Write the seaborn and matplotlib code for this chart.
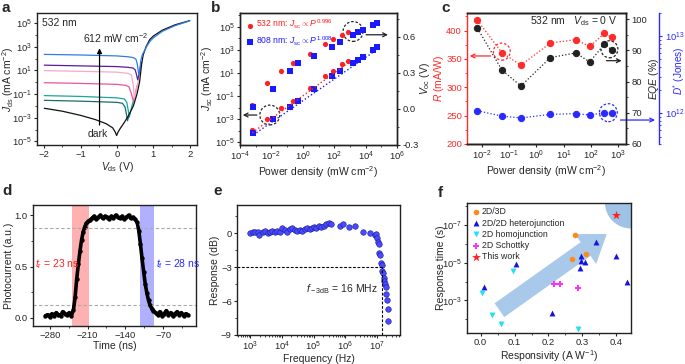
import numpy as np
import pandas as pd
import matplotlib
matplotlib.use('Agg')
import matplotlib.pyplot as plt
import seaborn as sns
from matplotlib.patches import Ellipse, FancyArrowPatch
from matplotlib.ticker import FixedLocator, MultipleLocator, FuncFormatter, NullFormatter, LogLocator

# ---- a: J-V curves (V in volts, log10 of J in mA cm-2) ----
v_dark = [-2, -1.5, -1.0, -0.6, -0.3, -0.12, -0.05, -0.01, 0.03, 0.1, 0.2, 0.32, 0.45, 0.55, 0.62, 0.68, 0.72, 0.8, 0.9, 1.0, 1.25, 1.6, 2.0]
lj_dark = [-2.2, -2.45, -2.8, -3.15, -3.5, -3.85, -4.2, -4.5, -4.2, -3.85, -3.4, -2.8, -2.0, -1.0, 0.0, 1.6, 2.3, 3.0, 3.6, 3.9, 4.4, 4.85, 5.2]
v_blue = [-2, -1, 0, 0.3, 0.45, 0.52, 0.56, 0.6, 0.63, 0.66, 0.7, 0.78, 0.85, 0.92, 1.0, 1.25, 1.6, 2.0]
lj_blue = [2.35, 2.3, 2.22, 2.15, 2.08, 1.95, 1.5, 0.6, 1.2, 1.9, 2.35, 2.8, 3.2, 3.5, 3.75, 4.3, 4.78, 5.18]
v_purple = [-2, -1, 0, 0.3, 0.44, 0.5, 0.54, 0.57, 0.6, 0.64, 0.68]
lj_purple = [1.44, 1.38, 1.32, 1.26, 1.2, 1.05, 0.6, 0.2, 0.6, 1.2, 1.7]
v_lpink = [-2, -1, 0, 0.3, 0.4, 0.45, 0.48, 0.51, 0.55, 0.6]
lj_lpink = [0.98, 0.92, 0.85, 0.75, 0.6, -0.3, -1.5, -1.0, -0.3, 0.2]
v_pink = [-2, -1, 0, 0.25, 0.33, 0.4, 0.45, 0.5, 0.55]
lj_pink = [-0.04, -0.1, -0.18, -0.27, -0.4, -1.0, -1.6, -1.0, -0.3]
v_teal = [-2, -1, 0, 0.2, 0.27, 0.31, 0.34, 0.37, 0.41, 0.45]
lj_teal = [-1.13, -1.2, -1.32, -1.41, -1.7, -2.4, -2.95, -2.5, -2.0, -1.6]
v_dteal = [-2, -1, 0, 0.15, 0.22, 0.26, 0.29, 0.32, 0.36]
lj_dteal = [-1.53, -1.6, -1.7, -1.78, -2.1, -2.7, -3.25, -2.9, -2.6]

# ---- b: power dependence ----
p532 = [6e-4, 5e-3, 4.1e-2, 0.25, 2.9, 26, 87, 330, 720]
jsc532 = [1.15e-4, 1.15e-3, 8.7e-3, 3.7e-2, 0.51, 5.1, 16, 59, 115]
voc532 = [0.036, 0.22, 0.32, 0.38, 0.46, 0.54, 0.58, 0.62, 0.64]
p808 = [7.1e-4, 1.3e-2, 0.15, 0.51, 5.4, 69, 234, 1510, 3470, 7080, 3.1e4, 5e4]
jsc808 = [7.2e-5, 1.0e-3, 1.15e-2, 3.7e-2, 0.43, 5.1, 16, 72, 138, 234, 870, 1580]
voc808 = [0.014, 0.17, 0.32, 0.38, 0.44, 0.52, 0.555, 0.62, 0.64, 0.66, 0.70, 0.715]

# ---- c: R, EQE, D* vs power ----
p_c = [0.0068, 0.054, 0.27, 3.3, 28, 92, 320, 612]
r_c = [418, 361, 339, 378, 384, 372, 395, 388]
eqe_c = [97.1, 83.7, 78.6, 87.7, 89.2, 86.3, 92.0, 90.1]
dstar_c = [1.08e12, 9.2e11, 8.7e11, 9.7e11, 9.9e11, 9.5e11, 1.02e12, 1.0e12]

# ---- d: transient photocurrent ----
t_ns = [-288, -284, -280, -276, -272, -268, -264, -260, -256, -252, -248, -244, -240,
        -236, -233, -230, -227, -224, -221, -218, -215, -212, -209, -206,
        -202, -198, -194, -190, -186, -182, -178, -174, -170, -166, -162, -158, -154,
        -150, -146, -142, -138, -134, -130, -126, -122,
        -118, -115, -112, -109, -106, -103, -100, -97, -94, -91, -88,
        -84, -80, -76, -72, -68, -64, -60, -56, -52, -48, -44, -40, -36, -32, -28, -24]
photo = [0.02, 0.03, 0.01, 0.04, 0.02, 0.05, 0.03, 0.02, 0.06, 0.04, 0.03, 0.05, 0.02,
         0.08, 0.2, 0.38, 0.52, 0.65, 0.76, 0.84, 0.89, 0.92, 0.94, 0.95,
         0.97, 0.99, 0.96, 0.98, 1.0, 0.97, 0.99, 0.98, 0.96, 0.99, 0.97, 1.0, 0.98,
         0.97, 0.99, 0.96, 0.98, 1.0, 0.97, 0.98, 0.96,
         0.93, 0.85, 0.72, 0.58, 0.45, 0.33, 0.24, 0.17, 0.12, 0.09, 0.07,
         0.05, 0.03, 0.06, 0.02, 0.04, 0.07, 0.03, 0.05, 0.02, 0.04, 0.06, 0.03, 0.05, 0.02, 0.04, 0.03]
rise_band = (-238, -207)
fall_band = (-113, -86)

# ---- e: frequency response ----
freq = [980, 1180, 1440, 1700, 1920, 2440, 2960, 3500, 4150, 5030, 6100, 7220, 8550,
        1.04e4, 1.26e4, 1.49e4, 1.76e4, 2.14e4, 2.59e4, 3.07e4, 3.63e4, 4.41e4, 5.34e4,
        6.32e4, 7.49e4, 8.65e4, 1.02e5, 1.21e5, 1.47e5, 1.78e5, 2.11e5, 2.5e5, 3.03e5,
        3.68e5, 7.05e5, 8.34e5, 1.29e6, 1.99e6, 3.55e6, 6.17e6, 8.45e6, 9.3e6, 1.0e7,
        1.07e7, 1.13e7, 1.18e7, 1.27e7, 1.37e7, 1.44e7, 1.51e7, 1.58e7, 1.66e7, 1.74e7,
        1.83e7, 1.92e7, 2.01e7, 2.11e7, 2.22e7, 2.33e7]
resp_db = [0.0, 0.09, 0.15, 0.09, -0.15, 0.09, 0.2, 0.0, 0.15, 0.2, 0.15, 0.2, 0.09,
           0.44, 0.29, 0.15, 0.35, 0.5, 0.29, 0.2, 0.29, 0.2, 0.38,
           0.44, 0.35, 0.5, 0.58, 0.5, 0.67, 0.58, 0.64, 0.79, 0.87,
           0.79, 0.64, 0.79, 0.58, 0.67, 0.09, 0.0, -0.15, -0.09, -0.44,
           -0.73, -0.96, -1.75, -1.89, -2.62, -2.83, -3.35, -3.5, -3.93, -4.22,
           -4.51, -4.75, -5.39, -5.91, -6.7, -7.78]
f3db = 1.5e7

# ---- f: comparison ----
groups = ['2D/3D', '2D/2D heterojunction', '2D homojunction', '2D Schottky', 'This work']
resp_3d = [0.277, 0.309, 0.268]
time_3d = [3.3e-7, 3.4e-6, 6.2e-6]
resp_het = [0.339, 0.297, 0.297, 0.307, 0.292, 0.398, 0.432, 0.104, 0.011, 0.211]
time_het = [7.9e-7, 4.5e-6, 8.1e-6, 9.3e-6, 2.0e-5, 4.3e-6, 1.0e-4, 1.1e-5, 1.9e-4, 4.6e-3]
resp_homo = [0.096, 0.003, 0.034, 0.059, 0.287]
time_homo = [2.7e-5, 4.2e-4, 5.9e-3, 1.8e-2, 3.2e-2]
resp_sch = [0.217, 0.233, 0.287]
time_sch = [1.26e-4, 1.26e-4, 2.3e-4]
resp_this = [0.40]
time_this = [3.0e-8]

sns.set_style('ticks')
plt.rcParams['font.family'] = ['Liberation Sans', 'DejaVu Sans']
plt.rcParams['mathtext.fontset'] = 'custom'
plt.rcParams['mathtext.rm'] = 'Liberation Sans'
plt.rcParams['mathtext.it'] = 'Liberation Sans:italic'
plt.rcParams['mathtext.bf'] = 'Liberation Sans:bold'
plt.rcParams['font.size'] = 7.2
plt.rcParams['axes.labelsize'] = 7.5
plt.rcParams['xtick.labelsize'] = 6.8
plt.rcParams['ytick.labelsize'] = 6.8
plt.rcParams['axes.linewidth'] = 1.0
plt.rcParams['axes.edgecolor'] = '#222222'
plt.rcParams['xtick.major.size'] = 2.5
plt.rcParams['ytick.major.size'] = 2.5
plt.rcParams['xtick.minor.size'] = 1.5
plt.rcParams['ytick.minor.size'] = 1.5
plt.rcParams['xtick.major.pad'] = 1.2
plt.rcParams['ytick.major.pad'] = 1.2
plt.rcParams['axes.labelpad'] = 0.5

def pow10(v, pos):
    return r'$10^{%d}$' % int(round(np.log10(v)))

def log_ticks(axis, major, minor):
    axis.set_major_locator(FixedLocator(major))
    axis.set_minor_locator(FixedLocator(minor))
    axis.set_major_formatter(FuncFormatter(pow10))
    axis.set_minor_formatter(NullFormatter())

fig = plt.figure(figsize=(6.85, 3.64), dpi=100)
W, H = 685, 364
def add_ax(l, t, r, b):
    return fig.add_axes([l / W, 1 - b / H, (r - l) / W, (b - t) / H])

ax_a = add_ax(37, 13, 197, 145)
ax_b = add_ax(240, 13, 397, 145)
ax_c = add_ax(467, 13, 626, 144)
ax_d = add_ax(33, 205, 196, 326)
ax_e = add_ax(237, 205, 400, 335)
ax_f = add_ax(467, 203, 631, 333)

# ===== a =====
curves = [(v_dteal, lj_dteal, '#1d6b6b'), (v_teal, lj_teal, '#1ba69c'),
          (v_pink, lj_pink, '#e8559e'), (v_lpink, lj_lpink, '#f6a9cc'),
          (v_purple, lj_purple, '#5a1ba0'), (v_dark, lj_dark, '#111111'),
          (v_blue, lj_blue, '#2d7fe3')]
for vv, lj, col in curves:
    sns.lineplot(x=vv, y=10 ** np.array(lj), sort=False, estimator=None, color=col, lw=0.9, ax=ax_a)
ax_a.set_yscale('log')
ax_a.set_xlim(-2.2, 2.2)
ax_a.set_ylim(5e-6, 7e5)
log_ticks(ax_a.yaxis, [1e-5, 1e-3, 1e-1, 1e1, 1e3, 1e5], [1e-4, 1e-2, 1, 1e2, 1e4])
ax_a.xaxis.set_major_locator(MultipleLocator(1))
ax_a.xaxis.set_minor_locator(MultipleLocator(0.5))
ax_a.set_xlabel(r'$V_{\rm ds}$ (V)')
ax_a.set_ylabel(r'$J_{\rm ds}$ (mA cm$^{-2}$)')
ax_a.yaxis.set_label_coords(-0.13, 0.5)
ax_a.text(0.03, 0.96, '532 nm', transform=ax_a.transAxes, ha='left', va='top', fontsize=7.5)
ax_a.annotate('', xy=(-0.48, 10 ** 3.1), xytext=(-0.48, 10 ** -3.85),
              arrowprops=dict(arrowstyle='-|>', lw=0.9, color='k', mutation_scale=7))
ax_a.text(-0.03, 10 ** 3.75, r'612 mW cm$^{-2}$', ha='center', va='center', fontsize=7.5)
ax_a.text(-0.54, 10 ** -4.35, 'dark', ha='center', va='center', fontsize=7.5)

# ===== b =====
red, blue = '#ff2020', '#1a1aff'
sns.scatterplot(x=p532, y=jsc532, color=red, marker='o', s=14, lw=0, ax=ax_b,
                label=r'532 nm: $J_{\rm sc}\propto P^{0.996}$')
sns.scatterplot(x=p808, y=jsc808, color=blue, marker='s', s=13, lw=0, ax=ax_b,
                label=r'808 nm: $J_{\rm sc}\propto P^{1.008}$')
for pp, jj, col in [(p532, jsc532, red), (p808, jsc808, blue)]:
    k, c0 = np.polyfit(np.log10(pp), np.log10(jj), 1)
    xs = np.array([min(pp), max(pp)])
    ax_b.plot(xs, 10 ** (c0 + k * np.log10(xs) - 0.25), ls=':', lw=1.0, color=col)
ax_b.set_xscale('log')
ax_b.set_yscale('log')
ax_b.set_xlim(1e-4, 1e6)
ax_b.set_ylim(6e-6, 1.5e6)
log_ticks(ax_b.xaxis, [1e-4, 1e-2, 1, 1e2, 1e4, 1e6], [1e-3, 1e-1, 10, 1e3, 1e5])
log_ticks(ax_b.yaxis, [1e-5, 1e-3, 1e-1, 1e1, 1e3, 1e5], [1e-4, 1e-2, 1, 1e2, 1e4, 1e6])
ax_b.set_xlabel(r'Power density (mW cm$^{-2}$)')
ax_b.set_ylabel(r'$J_{\rm sc}$ (mA cm$^{-2}$)', labelpad=0)
leg = ax_b.legend(loc='upper left', frameon=False, fontsize=6.2, handletextpad=0.1,
                  borderaxespad=0.2, labelspacing=0.35, handlelength=1.2)
for t, col in zip(leg.get_texts(), [red, blue]):
    t.set_color(col)
ax_b2 = ax_b.twinx()
sns.scatterplot(x=p532, y=voc532, color=red, marker='o', s=14, lw=0, ax=ax_b2)
sns.scatterplot(x=p808, y=voc808, color=blue, marker='s', s=13, lw=0, ax=ax_b2)
ax_b2.set_ylim(-0.3, 0.8)
ax_b2.yaxis.set_major_locator(FixedLocator([-0.3, 0.0, 0.3, 0.6]))
ax_b2.yaxis.set_minor_locator(MultipleLocator(0.15))
ax_b2.yaxis.set_major_formatter(FuncFormatter(lambda v, p: '%.1f' % v))
ax_b2.set_ylabel(r'$V_{\rm oc}$ (V)', labelpad=0)
circ_kw = dict(fill=False, ls=(0, (2, 1.5)), lw=0.9)
ax_b.add_patch(Ellipse((0.19, 0.227), 0.127, 0.15, transform=ax_b.transAxes, ec='#222222', **circ_kw))
ax_b.add_patch(Ellipse((0.72, 0.86), 0.127, 0.15, transform=ax_b.transAxes, ec='#222222', **circ_kw))
arr_kw = dict(arrowstyle='->', lw=0.9, mutation_scale=7)
ax_b.annotate('', xy=(0.0, 0.227), xytext=(0.125, 0.227), xycoords='axes fraction',
              arrowprops=dict(color='#222222', **arr_kw), annotation_clip=False)
ax_b.annotate('', xy=(0.96, 0.835), xytext=(0.785, 0.835), xycoords='axes fraction',
              arrowprops=dict(color='#222222', **arr_kw), annotation_clip=False)

# ===== c =====
cred, cblue = '#ff2a2a', '#2a2aff'
sns.lineplot(x=p_c, y=r_c, color=cred, ls=':', lw=0.9, marker='o', ms=4.5, mec=cred, ax=ax_c)
ax_c.set_xscale('log')
ax_c.set_xlim(2.8e-3, 2000)
ax_c.set_ylim(200, 431)
ax_c.yaxis.set_major_locator(MultipleLocator(50))
ax_c.yaxis.set_minor_locator(MultipleLocator(25))
log_ticks(ax_c.xaxis, [1e-2, 1e-1, 1, 10, 1e2, 1e3], [])
ax_c.xaxis.set_minor_locator(LogLocator(subs=np.arange(2, 10)))
ax_c.xaxis.set_minor_formatter(NullFormatter())
ax_c.set_ylabel(r'$R$ (mA/W)', color=cred, labelpad=0)
ax_c.tick_params(axis='y', colors=cred, which='both')
ax_c.spines['left'].set_color(cred)
ax_c.set_xlabel(r'Power density (mW cm$^{-2}$)')
ax_c2 = ax_c.twinx()
sns.lineplot(x=p_c, y=eqe_c, color='#222222', ls=':', lw=0.9, marker='o', ms=4.5, mec='#222222', ax=ax_c2)
ax_c2.set_ylim(60, 102)
ax_c2.yaxis.set_major_locator(MultipleLocator(10))
ax_c2.yaxis.set_minor_locator(MultipleLocator(5))
ax_c2.set_ylabel(r'$EQE$ (%)', labelpad=0)
ax_c3 = ax_c.twinx()
sns.lineplot(x=p_c, y=dstar_c, color=cblue, ls=':', lw=0.9, marker='o', ms=4.5, mec=cblue, ax=ax_c3)
ax_c3.set_yscale('log')
ax_c3.set_ylim(4e11, 2e13)
log_ticks(ax_c3.yaxis, [1e12, 1e13], [])
ax_c3.yaxis.set_minor_locator(LogLocator(subs=np.arange(2, 10)))
ax_c3.yaxis.set_minor_formatter(NullFormatter())
ax_c3.spines['right'].set_position(('axes', 1.21))
ax_c3.spines['right'].set_color(cblue)
ax_c3.tick_params(axis='y', colors=cblue, which='both')
ax_c3.set_ylabel(r'$D^{*}$ (Jones)', color=cblue, fontsize=7.2)
ax_c3.yaxis.set_label_coords(1.285, 0.56)
for a in (ax_c2, ax_c3):
    a.spines['left'].set_visible(False)
ax_c.text(0.946, 0.935, r'532 nm   $V_{\rm ds}$ = 0 V', transform=ax_c.transAxes,
          ha='right', va='center', fontsize=7.5)
ax_c.add_patch(Ellipse((0.219, 0.705), 0.106, 0.13, transform=ax_c.transAxes, ec=cred, **circ_kw))
ax_c.add_patch(Ellipse((0.896, 0.723), 0.106, 0.13, transform=ax_c.transAxes, ec='#222222', **circ_kw))
ax_c.add_patch(Ellipse((0.889, 0.239), 0.1125, 0.137, transform=ax_c.transAxes, ec=cblue, **circ_kw))
ax_c.annotate('', xy=(0.0, 0.672), xytext=(0.166, 0.672), xycoords='axes fraction',
              arrowprops=dict(color=cred, **arr_kw), annotation_clip=False)
ax_c.annotate('', xy=(0.99, 0.636), xytext=(0.86, 0.636), xycoords='axes fraction',
              arrowprops=dict(color='#222222', **arr_kw), annotation_clip=False)
ax_c.annotate('', xy=(1.2, 0.183), xytext=(0.948, 0.183), xycoords='axes fraction',
              arrowprops=dict(color=cblue, **arr_kw), annotation_clip=False)

# ===== d =====
ax_d.axvspan(*rise_band, color='#ffb0b0', lw=0)
ax_d.axvspan(*fall_band, color='#b0b0ff', lw=0)
for yy in (0.12, 0.88):
    ax_d.axhline(yy, color='#aaaaaa', ls=(0, (3, 2)), lw=0.8)
sns.lineplot(x=t_ns, y=photo, color='k', lw=2.6, sort=False, estimator=None, ax=ax_d)
sns.scatterplot(x=t_ns, y=photo, color='k', s=10, lw=0, ax=ax_d)
ax_d.set_xlim(-311, -9)
ax_d.set_ylim(-0.08, 1.1)
ax_d.xaxis.set_major_locator(FixedLocator([-280, -210, -140, -70]))
ax_d.xaxis.set_minor_locator(FixedLocator([-245, -175, -105, -35, -315]))
ax_d.yaxis.set_major_locator(MultipleLocator(0.5))
ax_d.yaxis.set_minor_locator(MultipleLocator(0.25))
ax_d.set_xlabel('Time (ns)')
ax_d.set_ylabel('Photocurrent (a.u.)')
ax_d.text(-307, 0.52, r'$t_{\rm r}$ = 23 ns', color='#ff2020', ha='left', va='center', fontsize=7.5)
ax_d.text(-83, 0.52, r'$t_{\rm f}$ = 28 ns', color='#2a2aff', ha='left', va='center', fontsize=7.5)

# ===== e =====
sns.scatterplot(x=freq, y=resp_db, color='#4a4aff', edgecolor='#1a1a9a', lw=0.4, s=16, ax=ax_e)
ax_e.set_xscale('log')
ax_e.set_xlim(380, 5.4e7)
ax_e.set_ylim(-9, 2.5)
ax_e.plot([380, f3db], [-3, -3], 'k--', lw=0.8, dashes=(2.5, 1.5))
ax_e.plot([f3db, f3db], [-9, -3], 'k--', lw=0.8, dashes=(2.5, 1.5))
log_ticks(ax_e.xaxis, [1e3, 1e4, 1e5, 1e6, 1e7], [])
ax_e.xaxis.set_minor_locator(LogLocator(subs=np.arange(2, 10)))
ax_e.xaxis.set_minor_formatter(NullFormatter())
ax_e.yaxis.set_major_locator(MultipleLocator(3))
ax_e.yaxis.set_minor_locator(MultipleLocator(1.5))
ax_e.set_xlabel('Frequency (Hz)')
ax_e.set_ylabel('Response (dB)')
ax_e.text(1.1e7, -4.95, r'$f_{\rm -3dB}$ = 16 MHz', ha='right', va='center', fontsize=7.5)

# ===== f =====
ax_f.add_patch(Ellipse((1, 1), 0.317, 0.392, transform=ax_f.transAxes, color='#9fc3e6', lw=0, zorder=0))
ax_f.add_patch(FancyArrowPatch((0.184, 0.163), (0.866, 0.774), transform=ax_f.transAxes,
                               arrowstyle='simple,head_length=0.85,head_width=1.2,tail_width=0.55',
                               mutation_scale=22, color='#a9c9ea', lw=0, zorder=0))
f_sets = [(resp_3d, time_3d, '#ff8a1a', 'o', 16), (resp_het, time_het, '#1414e0', '^', 18),
          (resp_homo, time_homo, '#22e0f2', 'v', 18), (resp_sch, time_sch, '#ff30ff', 'P', 22),
          (resp_this, time_this, '#ff2020', '*', 45)]
for (rx, ty, col, mk, sz), g in zip(f_sets, groups):
    sns.scatterplot(x=rx, y=ty, color=col, marker=mk, s=sz, lw=0, ax=ax_f, label=g)
ax_f.set_yscale('log')
ax_f.set_xlim(-0.04, 0.443)
ax_f.set_ylim(10 ** -1.27, 10 ** -8.18)
log_ticks(ax_f.yaxis, [1e-7, 1e-5, 1e-3], [1e-8, 1e-6, 1e-4, 1e-2])
ax_f.xaxis.set_major_locator(MultipleLocator(0.1))
ax_f.xaxis.set_minor_locator(MultipleLocator(0.05))
ax_f.xaxis.set_major_formatter(FuncFormatter(lambda v, p: '%.1f' % v))
ax_f.set_xlabel(r'Responsivity (A W$^{-1}$)')
ax_f.set_ylabel('Response time (s)', labelpad=-3)
ax_f.legend(loc='upper left', frameon=False, fontsize=6.3, handletextpad=0.2,
            borderaxespad=0.1, labelspacing=0.25, handlelength=1.0)

for lab, x, y in [('a', 2, 1), ('b', 211, 1), ('c', 441, 1), ('d', 2, 184), ('e', 213, 184), ('f', 438, 186)]:
    fig.text(x / W, 1 - y / H, lab, ha='left', va='top', fontsize=11, fontweight='bold')

fig.savefig('out.png', dpi=100)
